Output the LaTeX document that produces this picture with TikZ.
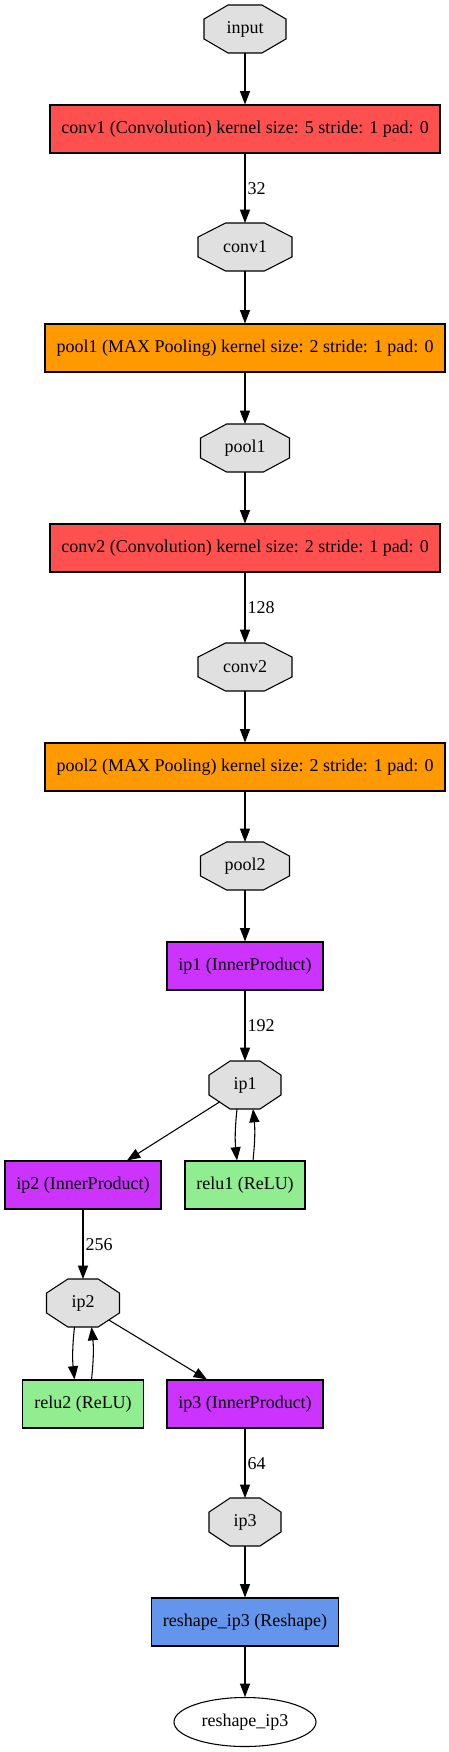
\documentclass[tikz,border=0pt]{standalone}
\usepackage{fontspec}
\setmainfont{Liberation Serif}
\usepackage{xcolor}
\usepackage{tikz}
\usetikzlibrary{arrows.meta,shapes.geometric,calc,backgrounds}

\definecolor{convred}{HTML}{FF5050}
\definecolor{poolorange}{HTML}{FF9900}
\definecolor{ipviolet}{HTML}{CC33FF}
\definecolor{relugreen}{HTML}{90EE90}
\definecolor{reshapeblue}{HTML}{6495ED}
\definecolor{blobgray}{HTML}{E0E0E0}

\begin{document}
\begin{tikzpicture}[x=0.75pt,y=-0.75pt,line width=0.8pt,
  font=\fontsize{13.5pt}{16pt}\selectfont,
  >={Triangle[length=10pt,width=7.5pt]},
  layer/.style={draw, rectangle, minimum height=36pt, inner sep=0pt},
  blob/.style={rectangle, minimum width=#1, minimum height=36pt, inner sep=0pt, outer sep=0pt},
  lbl/.style={right, inner sep=1.5pt}]
\useasboundingbox (0,0) rectangle (449,1752);

\node[blob=61.5pt]  (input) at (245,29)      {input};
  \node[layer, fill=convred, minimum width=292.5pt]    (conv1L) at (245,129)  {conv1 (Convolution) kernel size: 5 stride: 1 pad: 0};
  \node[blob=70.5pt]  (conv1) at (245,247)     {conv1};
  \node[layer, fill=poolorange, minimum width=300pt]   (pool1L) at (245,348)  {pool1 (MAX Pooling) kernel size: 2 stride: 1 pad: 0};
  \node[blob=66.75pt] (pool1) at (245,448)     {pool1};
  \node[layer, fill=convred, minimum width=292.5pt]    (conv2L) at (245,548)  {conv2 (Convolution) kernel size: 2 stride: 1 pad: 0};
  \node[blob=70.5pt]  (conv2) at (245,667)     {conv2};
  \node[layer, fill=poolorange, minimum width=300pt]   (pool2L) at (245,767)  {pool2 (MAX Pooling) kernel size: 2 stride: 1 pad: 0};
  \node[blob=66.75pt] (pool2) at (245,866)     {pool2};
  \node[layer, fill=ipviolet, minimum width=117pt]     (ip1L) at (245,966)    {ip1 (InnerProduct)};
  \node[blob=54pt]    (ip1) at (245,1085)      {ip1};
  \node[layer, fill=ipviolet, minimum width=117pt]     (ip2L) at (83,1185)    {ip2 (InnerProduct)};
  \node[layer, fill=relugreen, minimum width=90pt]     (relu1L) at (245,1185) {relu1 (ReLU)};
  \node[blob=54.75pt] (ip2) at (83,1303)       {ip2};
  \node[layer, fill=relugreen, minimum width=90.75pt]  (relu2L) at (83,1404)  {relu2 (ReLU)};
  \node[layer, fill=ipviolet, minimum width=117pt]     (ip3L) at (245,1404)   {ip3 (InnerProduct)};
  \node[blob=54pt]    (ip3) at (245,1522)      {ip3};
  \node[layer, fill=reshapeblue, minimum width=140.25pt] (reshapeL) at (245,1622) {reshape\_ip3 (Reshape)};
  \node[draw, ellipse, minimum width=106.5pt, minimum height=36.75pt, inner sep=0pt] (reshape) at (245,1722) {reshape\_ip3};

  % octagon outlines of the blobs
  \begin{scope}[on background layer]
  \foreach \b in {input,conv1,pool1,conv2,pool2,ip1,ip2,ip3}
    \draw[line width=0.8pt, fill=blobgray]
      ($(\b.north west)!0.293!(\b.north east)$) -- ($(\b.north west)!0.707!(\b.north east)$)
      -- ($(\b.north east)!0.293!(\b.south east)$) -- ($(\b.north east)!0.707!(\b.south east)$)
      -- ($(\b.south east)!0.293!(\b.south west)$) -- ($(\b.south east)!0.707!(\b.south west)$)
      -- ($(\b.south west)!0.293!(\b.north west)$) -- ($(\b.south west)!0.707!(\b.north west)$)
      -- cycle;
  \end{scope}

  \path[->]
    (input) edge              (conv1L)
    (conv1L) edge             node[lbl] {32} (conv1)
    (conv1) edge              (pool1L)
    (pool1L) edge             (pool1)
    (pool1) edge              (conv2L)
    (conv2L) edge             node[lbl] {128} (conv2)
    (conv2) edge              (pool2L)
    (pool2L) edge             (pool2)
    (pool2) edge              (ip1L)
    (ip1L) edge               node[lbl] {192} (ip1)
    ($(ip1.center)!0.708!(ip1.south west)$) edge ([xshift=33pt]ip2L.north)
    ([xshift=-6pt]ip1.south) edge[bend right=6] ([xshift=-6pt]relu1L.north)
    ([xshift=6pt]relu1L.north) edge[bend right=6] ([xshift=6pt]ip1.south)
    (ip2L) edge               node[lbl] {256} (ip2)
    ([xshift=-6.4pt]ip2.south) edge[bend right=6] ([xshift=-6.4pt]relu2L.north)
    ([xshift=6.4pt]relu2L.north) edge[bend right=6] ([xshift=6.4pt]ip2.south)
    ($(ip2.center)!0.708!(ip2.south east)$) edge ([xshift=-28.5pt]ip3L.north)
    (ip3L) edge               node[lbl] {64} (ip3)
    (ip3) edge                (reshapeL)
    (reshapeL) edge           (reshape);
\end{tikzpicture}
\end{document}
